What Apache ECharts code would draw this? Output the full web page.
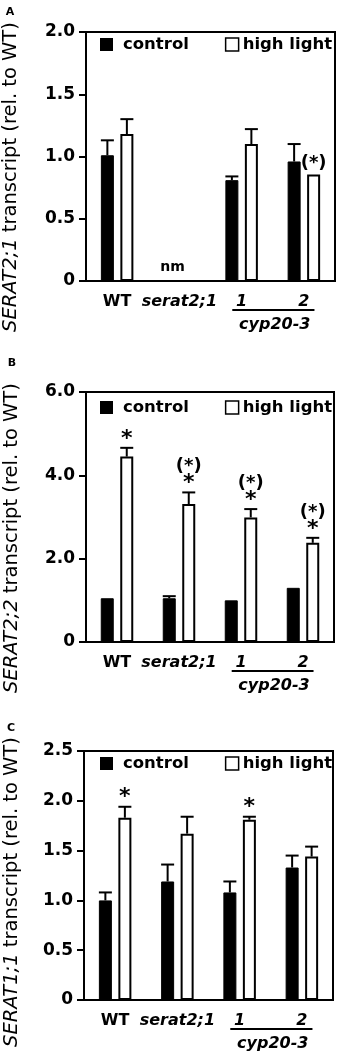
<!DOCTYPE html>
<html>
<head>
<meta charset="utf-8">
<script src="https://cdn.jsdelivr.net/npm/echarts@6/dist/echarts.min.js"></script>
<style>
html, body { margin: 0; padding: 0; background: #fff; }
#chart { width: 340px; height: 1058px; }
</style>
</head>
<body>
<div id="chart"></div>
<script>
// categories on every panel
const categories = ['WT', 'serat2;1', '1', '2']
const groupLabel = 'cyp20-3'

// A: SERAT2;1 transcript (serat2;1 not measured)
const a_control = [1.01, null, 0.81, 0.96]
const a_controlTop = [1.13, null, 0.84, 1.10]
const a_high = [1.18, null, 1.10, 0.855]
const a_highTop = [1.30, null, 1.22, 0.855]
const a_marks = [[], [], [], ['(*)']]
const a_notes = ['', 'nm', '', '']

// B: SERAT2;2 transcript
const b_control = [1.05, 1.05, 1.0, 1.3]
const b_controlTop = [1.05, 1.10, 1.0, 1.3]
const b_high = [4.45, 3.31, 2.99, 2.38]
const b_highTop = [4.66, 3.59, 3.19, 2.50]
const b_marks = [['*'], ['*', '(*)'], ['*', '(*)'], ['*', '(*)']]

// C: SERAT1;1 transcript
const c_control = [1.0, 1.19, 1.08, 1.33]
const c_controlTop = [1.08, 1.36, 1.19, 1.45]
const c_high = [1.83, 1.67, 1.81, 1.44]
const c_highTop = [1.94, 1.84, 1.84, 1.54]
const c_marks = [['*'], [], ['*'], []]

const FONT = 'DejaVu Sans'
const BAR_W = 13
const BAR_GAP = 0.5
const SHIFT = BAR_W * (1 + BAR_GAP) / 2

const panels = [
  { letter: 'A', title: 'SERAT2;1', top: 32, height: 249, left: 86, right: 5, max: 2, interval: 0.5,
    control: a_control, controlTop: a_controlTop, high: a_high, highTop: a_highTop, marks: a_marks, notes: a_notes,
    letterPos: [10, 12], titlePos: [11, 177], legendTop: 36 },
  { letter: 'B', title: 'SERAT2;2', top: 392, height: 250, left: 86, right: 6, max: 6, interval: 2,
    control: b_control, controlTop: b_controlTop, high: b_high, highTop: b_highTop, marks: b_marks, notes: null,
    letterPos: [12, 363], titlePos: [12, 538], legendTop: 399 },
  { letter: 'C', title: 'SERAT1;1', top: 751, height: 249, left: 84, right: 7, max: 2.5, interval: 0.5,
    control: c_control, controlTop: c_controlTop, high: c_high, highTop: c_highTop, marks: c_marks, notes: null,
    letterPos: [11, 728], titlePos: [12, 892], legendTop: 755 }
]

function errorSeries(idx, values, tops, dx, marks) {
  let rows = []
  values.forEach((v, i) => { if (v != null) rows.push([i, v, tops[i]]) })
  return {
    type: 'custom', xAxisIndex: idx, yAxisIndex: idx, z: 5, silent: true,
    data: rows,
    renderItem(params, api) {
      const i = api.value(0)
      const base = api.coord([i, api.value(1)])
      const top = api.coord([i, api.value(2)])
      const x = base[0] + dx
      const kids = []
      const st = { stroke: '#000', lineWidth: 2 }
      if (top[1] < base[1] - 1) {
        kids.push({ type: 'line', shape: { x1: x, y1: base[1], x2: x, y2: top[1] }, style: st })
        kids.push({ type: 'line', shape: { x1: x - BAR_W / 2, y1: top[1], x2: x + BAR_W / 2, y2: top[1] }, style: st })
      }
      const m = marks ? marks[i] : []
      let y = top[1] - 2
      m.forEach(t => {
        const star = t === '*'
        kids.push({ type: 'text', style: { text: t, x: x, y: star ? y + 4 : y, align: 'center', verticalAlign: 'bottom',
          font: 'bold ' + (star ? 22 : 18) + 'px "' + FONT + '"', fill: '#000' } })
        y -= 15
      })
      return { type: 'group', children: kids }
    }
  }
}

function groupSeries(idx, notes) {
  return {
    type: 'custom', xAxisIndex: idx, yAxisIndex: idx, z: 5, silent: true,
    data: [[2, 3, 0]],
    renderItem(params, api) {
      const p1 = api.coord([api.value(0), 0])
      const p2 = api.coord([api.value(1), 0])
      const band = api.size([1, 0])[0]
      const kids = [
        { type: 'line', shape: { x1: p1[0] - band * 0.15, y1: p1[1] + 29, x2: p2[0] + band * 0.17, y2: p1[1] + 29 },
          style: { stroke: '#000', lineWidth: 2 } },
        { type: 'text', style: { text: groupLabel, x: (p1[0] + p2[0]) / 2 + 2, y: p1[1] + 44, align: 'center', verticalAlign: 'middle',
          font: 'italic bold 16px "' + FONT + '"', fill: '#000' } }
      ]
      if (notes) {
        notes.forEach((t, k) => {
          if (!t) return
          const p = api.coord([k, 0])
          kids.push({ type: 'text', style: { text: t, x: p[0] - SHIFT + 3, y: p[1] - 14, align: 'center', verticalAlign: 'middle',
            font: 'bold 14px "' + FONT + '"', fill: '#000' } })
        })
      }
      return { type: 'group', children: kids }
    }
  }
}

const grid = [], xAxis = [], yAxis = [], series = [], legend = [], graphic = []

panels.forEach((p, idx) => {
  grid.push({ left: p.left, right: p.right, top: p.top, height: p.height, show: true,
    borderColor: '#000', borderWidth: 2, outerBoundsMode: 'none' })
  xAxis.push({
    type: 'category', gridIndex: idx, data: categories,
    axisLine: { lineStyle: { color: '#000', width: 2 } },
    axisTick: { show: false },
    axisLabel: {
      margin: 13, color: '#000', interval: 0, hideOverlap: false,
      formatter: v => v === 'WT' ? '{b|WT}' : '{bi|' + v + '}',
      rich: {
        b: { fontFamily: FONT, fontWeight: 'bold', fontSize: 16, color: '#000' },
        bi: { fontFamily: FONT, fontWeight: 'bold', fontStyle: 'italic', fontSize: 16, color: '#000' }
      }
    }
  })
  yAxis.push({
    type: 'value', gridIndex: idx, min: 0, max: p.max, interval: p.interval,
    splitLine: { show: false },
    axisLine: { show: true, lineStyle: { color: '#000', width: 2 } },
    axisTick: { show: true, length: 7, lineStyle: { color: '#000', width: 2 } },
    axisLabel: { margin: 11, color: '#000', fontFamily: FONT, fontWeight: 'bold', fontSize: 17,
      formatter: v => v === 0 ? '0' : v.toFixed(1) }
  })
  series.push({
    name: 'control', type: 'bar', xAxisIndex: idx, yAxisIndex: idx,
    data: p.control, barWidth: BAR_W, barGap: (BAR_GAP * 100) + '%',
    itemStyle: { color: '#000', borderColor: '#000', borderWidth: 1 }
  })
  series.push({
    name: 'high light', type: 'bar', xAxisIndex: idx, yAxisIndex: idx,
    data: p.high, barWidth: BAR_W,
    itemStyle: { color: '#fff', borderColor: '#000', borderWidth: 2 }
  })
  series.push(errorSeries(idx, p.control, p.controlTop, -SHIFT, null))
  series.push(errorSeries(idx, p.high, p.highTop, SHIFT, p.marks))
  series.push(groupSeries(idx, p.notes))
  legend.push({
    left: 100, top: p.legendTop, padding: 0, itemWidth: 13, itemHeight: 13, itemGap: 36,
    selectedMode: false,
    textStyle: { fontFamily: FONT, fontWeight: 'bold', fontSize: 16.5, color: '#000' },
    data: [
      { name: 'control', icon: 'rect', itemStyle: { color: '#000', borderWidth: 0 }, textStyle: { padding: [0, 0, 0, 5] } },
      { name: 'high light', icon: 'rect', itemStyle: { color: '#fff', borderColor: '#000', borderWidth: 1.5 }, textStyle: { padding: [0, 0, 0, -1] } }
    ]
  })
  graphic.push({
    type: 'text', x: p.letterPos[0], y: p.letterPos[1],
    style: { text: p.letter, font: 'bold 11px "' + FONT + '"', fill: '#000', align: 'center', verticalAlign: 'middle' }
  })
  graphic.push({
    type: 'text', x: p.titlePos[0], y: p.titlePos[1], rotation: Math.PI / 2,
    style: {
      text: '{i|' + p.title + '} transcript (rel. to WT)',
      rich: { i: { fontFamily: FONT, fontStyle: 'italic', fontSize: 19.5, fill: '#000' } },
      font: '19.5px "' + FONT + '"', fill: '#000', align: 'center', verticalAlign: 'middle'
    }
  })
})

const chart = echarts.init(document.getElementById('chart'))
chart.setOption({
  animation: false,
  backgroundColor: '#fff',
  grid, xAxis, yAxis, series, legend, graphic
})
window.addEventListener('resize', function () { chart.resize() })
</script>
</body>
</html>
